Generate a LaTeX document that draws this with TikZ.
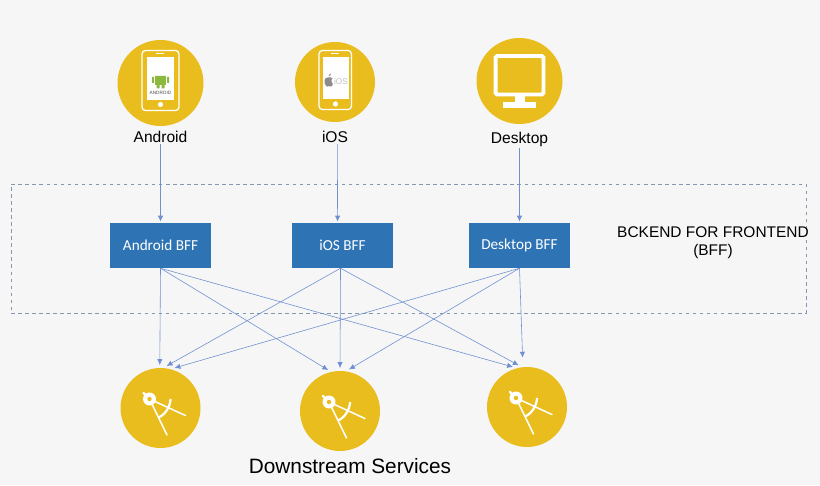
\documentclass[tikz,border=0pt]{standalone}
\usepackage{fontspec}
\setmainfont{Liberation Sans}
\newfontfamily\boxfont{Carlito}
\usepackage{tikz}
\usetikzlibrary{arrows.meta,shapes,positioning}
\definecolor{pagebg}{HTML}{F6F6F6}
\definecolor{gold}{HTML}{EABD1E}
\definecolor{bffblue}{HTML}{2E74B5}
\definecolor{wire}{HTML}{6F90D0}
\definecolor{zone}{HTML}{8497B0}
\definecolor{robot}{HTML}{8DB83F}
\tikzset{
    disc/.style={circle,fill=gold,minimum size=2.4cm,inner sep=0pt,outer sep=1.5pt},
    bff/.style={rectangle,fill=bffblue,text=white,font=\boxfont\fontsize{13}{15}\selectfont,minimum width=3.03cm,minimum height=1.35cm,inner sep=0pt},
    lbl/.style={font=\fontsize{13.3}{15}\selectfont,text=black,inner sep=1pt},
    iconline/.style={draw=white,line width=1.1pt},
    wireline/.style={color=wire,line width=0.5pt,-{Latex[length=5pt,width=4.5pt]}}
}
\begin{document}
\begin{tikzpicture}[shorten >=1pt,node distance=1cm]
        \useasboundingbox[fill=pagebg] (0,0) rectangle (24.6,14.55);

        \node[draw=zone,dashed,line width=0.7pt,minimum width=23.85cm,minimum height=3.87cm] (zone) at (12.255,7.095) {};

        \node[bff] (bffa) at (4.815,7.185)                 {Android BFF};
        \node[bff] (bffi) [right of=bffa,xshift=4.46cm]    {iOS BFF};
        \node[bff] (bffd) [right of=bffi,xshift=4.31cm]    {Desktop BFF};

        \node[lbl] (lbla) [above of=bffa,yshift=2.255cm]               {Android};
        \node[lbl] (lbli) [above of=bffi,yshift=2.255cm,xshift=-.225cm] {iOS};
        \node[lbl] (lbld) [above of=bffd,yshift=2.195cm]               {Desktop};

        \node[disc,minimum size=2.58cm] (topa) [above of=lbla,yshift=.62cm] {};
        \node[disc] (topi) [above of=lbli,yshift=.65cm]                     {};
        \node[disc,minimum size=2.58cm] (topd) [above of=lbld,yshift=.74cm] {};

        \node[disc] (sva) [below of=bffa,yshift=-3.875cm]               {};
        \node[disc] (svb) [below of=bffi,yshift=-3.965cm,xshift=-.075cm] {};
        \node[disc] (svc) [below of=bffd,yshift=-3.845cm,xshift=.225cm]  {};
        \coordinate (svctop) at ([yshift=.2cm]svc.96);

        \node[lbl,font=\fontsize{17.75}{20}\selectfont] (down) [below of=svb,yshift=-.65cm,xshift=.3cm] {Downstream Services};
        \node[lbl,align=center,font=\fontsize{13.2}{15.5}\selectfont] (zonelbl) at (21.39,7.26) {BCKEND FOR FRONTEND\\(BFF)};

        % android phone
        \begin{scope}[shift={(topa.center)},x=.03cm,y=-.03cm]
            \draw[iconline,rounded corners=3pt] (-18.5,-32.5) rectangle (18.5,27.5);
            \fill[white] (-13.5,-26) rectangle (13,17);
            \draw[iconline,line cap=round] (-4,-29.5) -- (4,-29.5);
            \fill[white] (0,21.5) circle (2.6);
            \fill[robot] (-5.5,-7) arc (180:0:5.5 and 5) -- cycle;
            \fill[robot] (-5.5,-6) rectangle (5.5,2);
            \fill[robot] (-4,2) rectangle (-1,5.5) (1,2) rectangle (4,5.5);
            \fill[robot] (-8.5,-6) rectangle (-6.5,0) (6.5,-6) rectangle (8.5,0);
            \node[inner sep=0pt,text=black!70,font=\fontsize{4}{4}\selectfont] (droid) at (0,5) [yshift=-.15cm] {ANDROID};
        \end{scope}

        % ios phone
        \begin{scope}[shift={(topi.center)},x=.03cm,y=-.03cm]
            \draw[iconline,rounded corners=3pt] (-16,-31.5) rectangle (16.5,27.5);
            \fill[white] (-12.5,-25) rectangle (13.5,17);
            \draw[iconline,line cap=round] (-3.5,-28.5) -- (4.5,-28.5);
            \fill[white] (.5,22) circle (2.6);
            \fill[black!45] (-7,-4.5) .. controls (-11,-5.5) and (-11.5,1) .. (-9,4) .. controls (-8,5) and (-7,4.5) .. (-6,4) .. controls (-5,4.5) and (-4,5) .. (-3,4) .. controls (-2.5,3) and (-2.5,2.5) .. (-2.2,2) .. controls (-4,1) and (-4,-3) .. (-2.5,-3.5) .. controls (-3.5,-5) and (-5.5,-5) .. cycle;
            \fill[black!45] (-6.5,-5.5) .. controls (-6.5,-7) and (-5.5,-8) .. (-4,-8.5) .. controls (-4,-7) and (-5,-6) .. cycle;
            \node[inner sep=0pt,text=black!25,font=\fontsize{7}{7}\selectfont] (iosmark) at (6,0) {iOS};
        \end{scope}

        % desktop screen
        \begin{scope}[shift={(topd.center)},x=.03cm,y=-.03cm]
            \draw[draw=white,line width=3.4pt,rounded corners=1.5pt] (-24,-25) rectangle (24,13.5);
            \fill[white] (-4.5,15) rectangle (5,22);
            \fill[white] (-17,21.5) rectangle (16.5,27);
        \end{scope}

        % compass on each service
        \foreach \sv in {sva,svb,svc} {
            \begin{scope}[shift={(\sv.center)},x=.03cm,y=-.03cm]
                \draw[iconline,line width=1.3pt,line cap=round] (-11,-9) -- (7,28);
                \draw[iconline,line width=1.3pt,line cap=round] (-11,-9) -- (26,8);
                \draw[iconline,line width=1.9pt] (10,-9) .. controls (10,-3) and (6,6) .. (-3,10);
                \draw[iconline,line width=1.9pt,line cap=round] (-11,-9) -- (-18,-16);
                \fill[white] (-11,-9) circle (6.5);
                \fill[gold] (-11,-9) circle (2.2);
            \end{scope}
        }

        \path[wireline]
        (lbla.south) edge (bffa.north)
        ([xshift=2pt]lbli.south) edge ([xshift=-4.2pt]bffi.north)
        (lbld.south) edge (bffd.north)
        (bffa.south) edge (sva.91)
                     edge (svb.105)
                     edge (svc.108)
        (bffi.265)   edge (sva.83)
                     edge (svb.90)
                     edge (svc.100)
        (bffd.south) edge (sva.72)
                     edge (svb.79)
                     edge (svctop);
    \end{tikzpicture}
\end{document}
